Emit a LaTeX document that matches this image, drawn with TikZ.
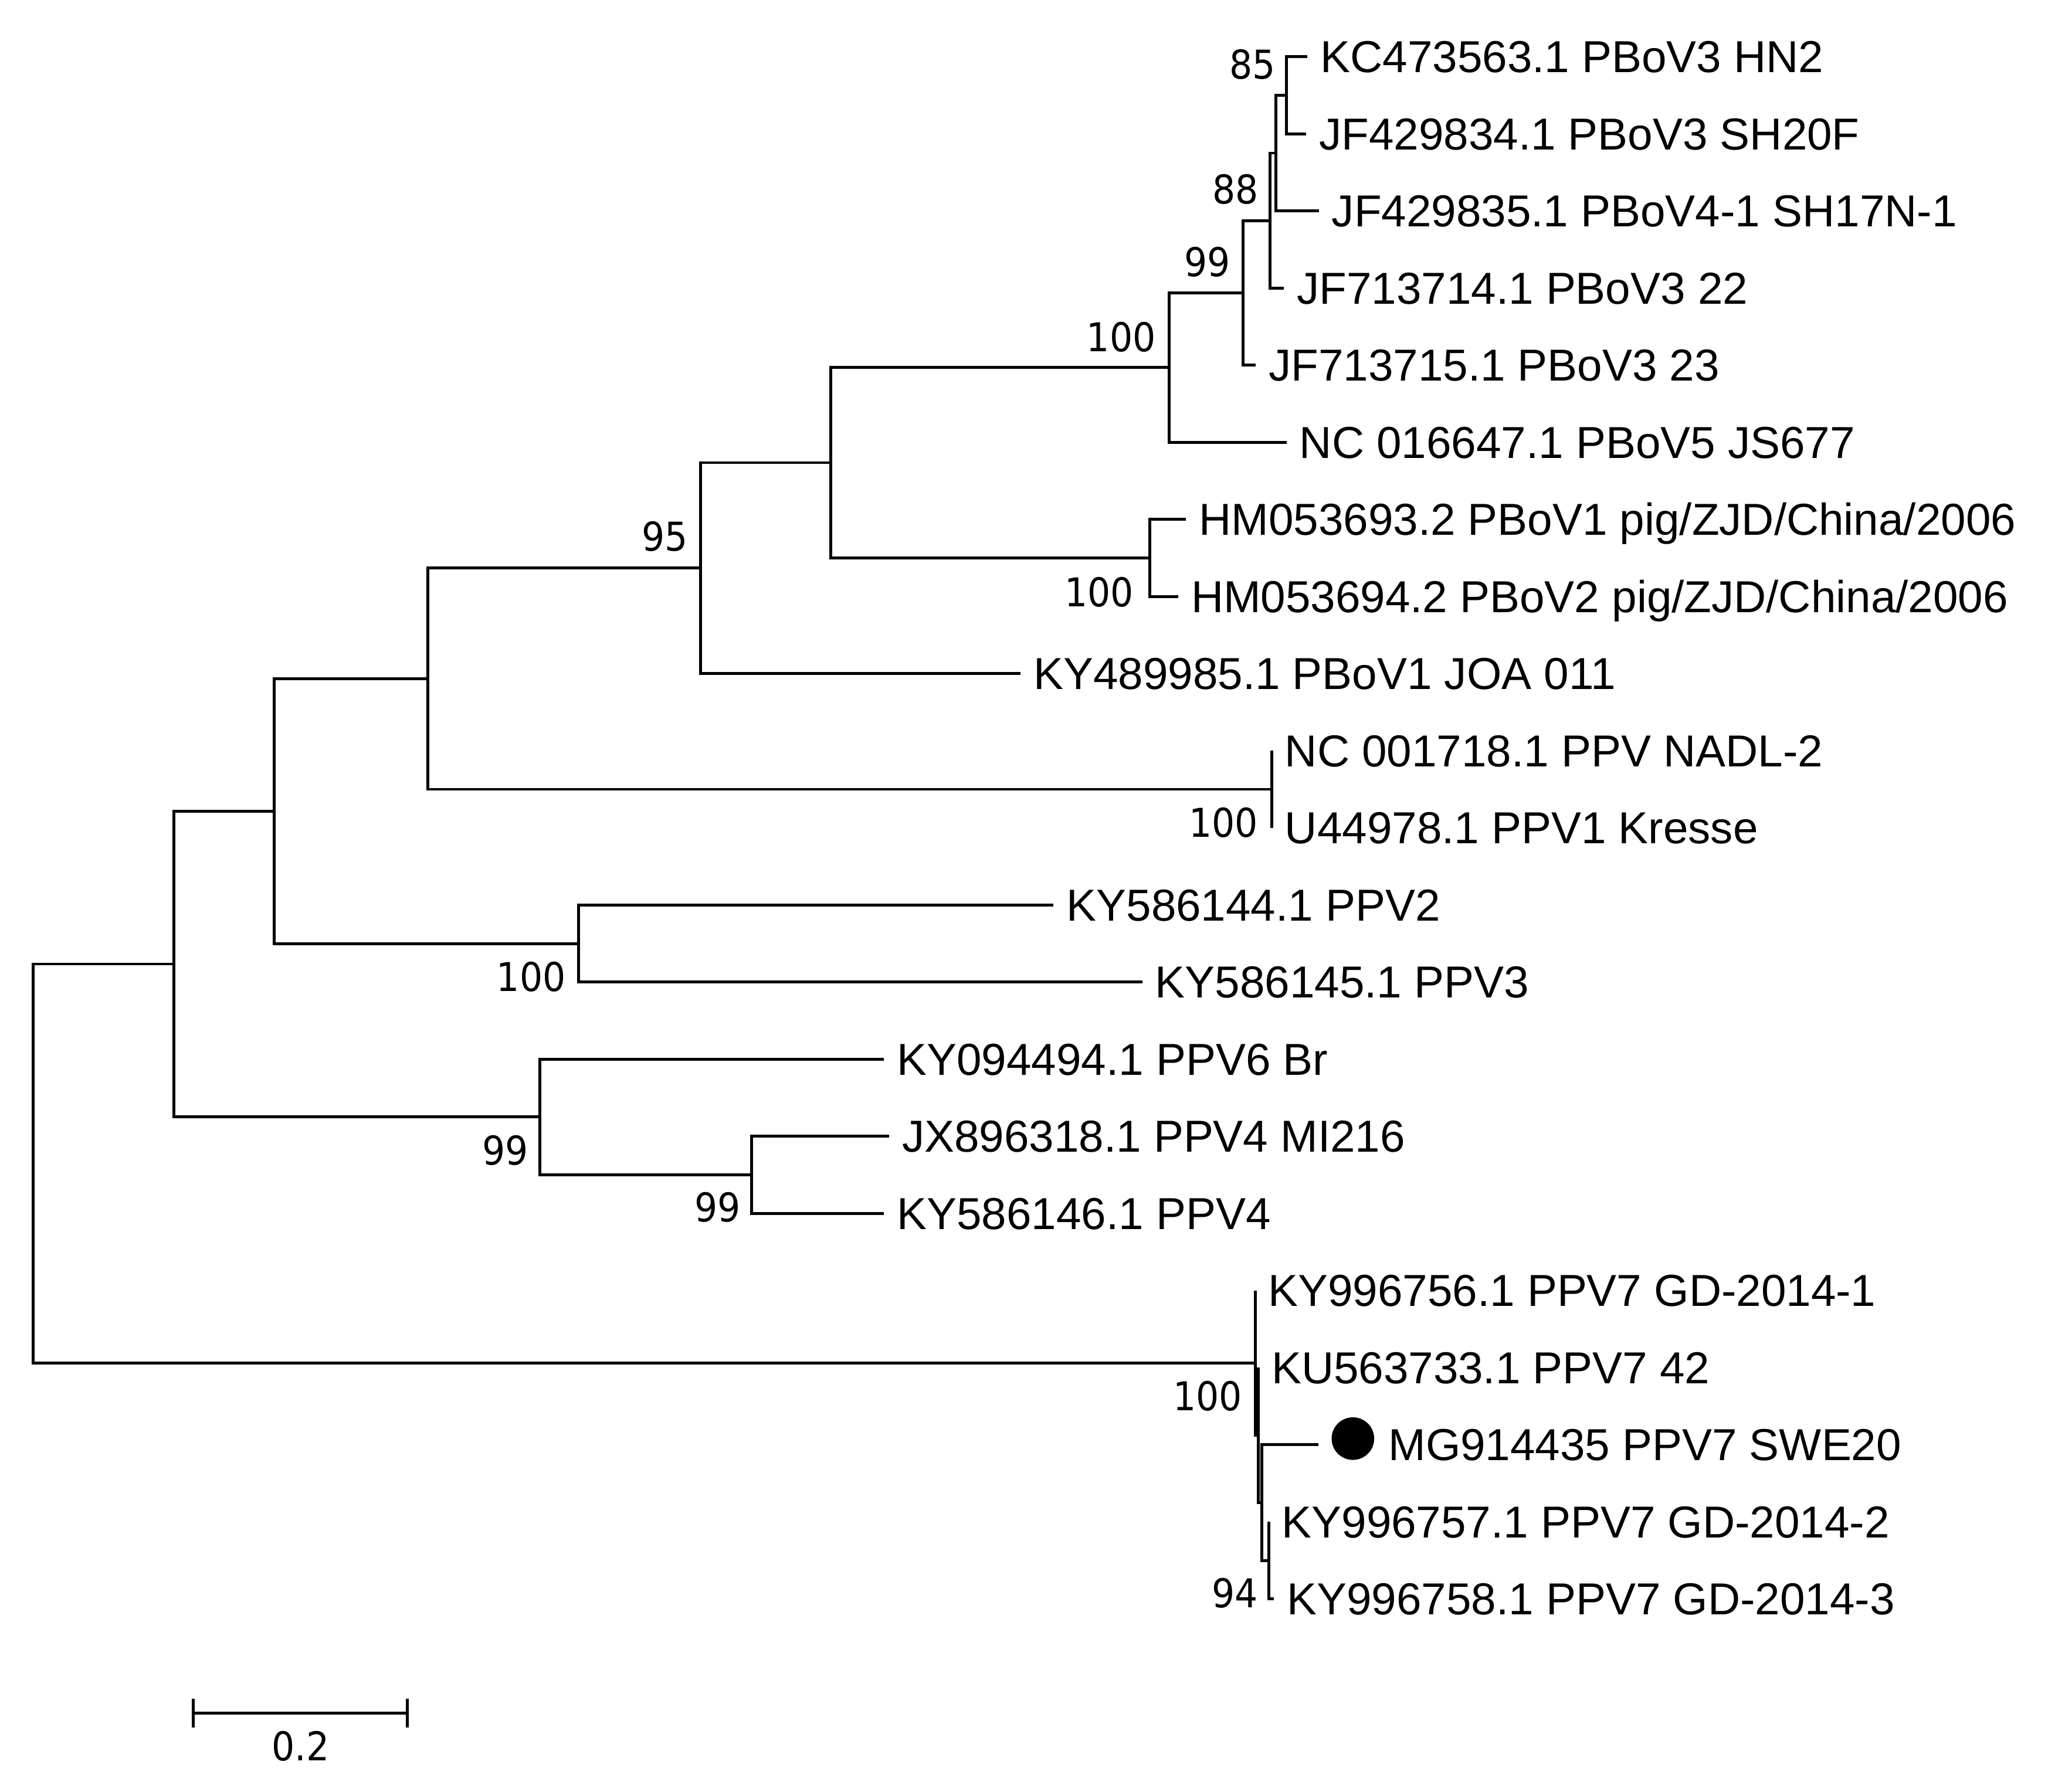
\documentclass[tikz,border=0pt]{standalone}
\usepackage{fontspec}
\setmainfont{Liberation Sans}
\newfontfamily\bsfam[FakeStretch=0.91]{DejaVu Sans}
\newcommand\labfont{\fontsize{34.3}{40}\selectfont}
\newcommand\bsfont{\bsfam\fontsize{30.4}{36}\selectfont}
\tikzset{
  tree/.style={line width=2.2pt, line join=miter, black},
  lab/.style={font=\labfont, anchor=base west, inner sep=0pt, outer sep=0pt, xshift=10pt, yshift=-12.2pt},
  bs/.style={font=\bsfont, anchor=base east, inner sep=0pt, outer sep=0pt},
}
\begin{document}
\begin{tikzpicture}[x=1pt,y=-1pt]
\useasboundingbox (0,0) rectangle (1568,1372);
% tips
\coordinate (t1) at (1001,43.4);
\coordinate (t2) at (1000,102.45);
\coordinate (t3) at (1009.7,161.5);
\coordinate (t4) at (983,220.55);
\coordinate (t5) at (961.4,279.6);
\coordinate (t6) at (985,338.65);
\coordinate (t7) at (908,397.7);
\coordinate (t8) at (902,456.75);
\coordinate (t9) at (781.3,515.8);
\coordinate (t10) at (973.8,574.85);
\coordinate (t11) at (973.8,633.9);
\coordinate (t12) at (806.6,692.95);
\coordinate (t13) at (874.5,752.0);
\coordinate (t14) at (676.8,811.05);
\coordinate (t15) at (680.7,870.1);
\coordinate (t16) at (676.8,929.15);
\coordinate (t17) at (961,988.2);
\coordinate (t18) at (963.5,1047.25);
\coordinate (t19) at (1009.6,1106.3);
\coordinate (t20) at (971.4,1165.35);
\coordinate (t21) at (975.4,1224.4);
% internal nodes
\coordinate (n10) at (985,72.93);
\coordinate (n9) at (977,117.2);
\coordinate (n8) at (972.2,168.9);
\coordinate (n7) at (951.5,224.25);
\coordinate (n6) at (895,281.45);
\coordinate (nHM) at (880.4,427.2);
\coordinate (n5) at (636,354.3);
\coordinate (n4) at (536.5,435.05);
\coordinate (nP1) at (973.8,604.4);
\coordinate (n3) at (327.7,519.7);
\coordinate (nP23) at (443.1,722.5);
\coordinate (n2) at (210.1,621.1);
\coordinate (nP4) at (575.3,899.6);
\coordinate (nP6) at (413.5,855.3);
\coordinate (n1) at (133.3,738.2);
\coordinate (nC) at (971.4,1194.9);
\coordinate (nB2) at (966.2,1150.6);
\coordinate (nB) at (963.5,1098.9);
\coordinate (nA) at (961,1043.55);
\coordinate (root) at (25.5,890.9);
% branches
\foreach \p/\c in {root/n1, root/nA,
  n1/n2, n1/nP6, n2/n3, n2/nP23, n3/n4, n3/nP1, n4/n5, n4/t9,
  n5/n6, n5/nHM, n6/n7, n6/t6, n7/n8, n7/t5, n8/n9, n8/t4,
  n9/n10, n9/t3, n10/t1, n10/t2, nHM/t7, nHM/t8, nP1/t10, nP1/t11,
  nP23/t12, nP23/t13, nP6/t14, nP6/nP4, nP4/t15, nP4/t16,
  nA/t17, nA/nB, nB/t18, nB/nB2, nB2/t19, nB2/nC, nC/t20, nC/t21}
  \draw[tree] (\p) |- (\c);
% labels
\node[lab] (l1) at (t1) {KC473563.1 PBoV3 HN2};
\node[lab] (l2) at (t2) {JF429834.1 PBoV3 SH20F};
\node[lab] (l3) at (t3) {JF429835.1 PBoV4-1 SH17N-1};
\node[lab] (l4) at (t4) {JF713714.1 PBoV3 22};
\node[lab] (l5) at (t5) {JF713715.1 PBoV3 23};
\node[lab] (l6) at (t6) {NC 016647.1 PBoV5 JS677};
\node[lab] (l7) at (t7) {HM053693.2 PBoV1 pig/ZJD/China/2006};
\node[lab] (l8) at (t8) {HM053694.2 PBoV2 pig/ZJD/China/2006};
\node[lab] (l9) at (t9) {KY489985.1 PBoV1 JOA 011};
\node[lab] (l10) at (t10) {NC 001718.1 PPV NADL-2};
\node[lab] (l11) at (t11) {U44978.1 PPV1 Kresse};
\node[lab] (l12) at (t12) {KY586144.1 PPV2};
\node[lab] (l13) at (t13) {KY586145.1 PPV3};
\node[lab] (l14) at (t14) {KY094494.1 PPV6 Br};
\node[lab] (l15) at (t15) {JX896318.1 PPV4 MI216};
\node[lab] (l16) at (t16) {KY586146.1 PPV4};
\node[lab] (l17) at (t17) {KY996756.1 PPV7 GD-2014-1};
\node[lab] (l18) at (t18) {KU563733.1 PPV7 42};
\node[circle, fill=black, inner sep=0pt, minimum size=32.6pt] (dot) at (1035.8,1101.6) {};
\node[lab, xshift=43.4pt] (l19) at (t19) {MG914435 PPV7 SWE20};
\node[lab] (l20) at (t20) {KY996757.1 PPV7 GD-2014-2};
\node[lab] (l21) at (t21) {KY996758.1 PPV7 GD-2014-3};
% bootstrap values
\node[bs] (b85) at (976.4,60.4) {85};
\node[bs] (b88) at (963.5,156.2) {88};
\node[bs] (b99a) at (942,211.7) {99};
\node[bs] (b100a) at (884.8,269.1) {100};
\node[bs] (b95) at (526.7,421.8) {95};
\node[bs] (b100b) at (868,464.5) {100};
\node[bs] (b100c) at (963,641) {100};
\node[bs] (b100d) at (433.1,759.2) {100};
\node[bs] (b99b) at (404.6,892) {99};
\node[bs] (b99c) at (567,935.5) {99};
\node[bs] (b100e) at (951.1,1080.3) {100};
\node[bs] (b94) at (963,1231) {94};
% scale bar
\coordinate (sb1) at (147.8,1311.8);
\coordinate (sb2) at (311.9,1311.8);
\draw[tree] (sb1) -- (sb2);
\draw[tree] ([yshift=11pt]sb1) -- ([yshift=-11pt]sb1);
\draw[tree] ([yshift=11pt]sb2) -- ([yshift=-11pt]sb2);
\node[font=\bsfont, anchor=base, inner sep=0pt] (sblab) at (230,1348.2) {0.2};
\end{tikzpicture}
\end{document}
